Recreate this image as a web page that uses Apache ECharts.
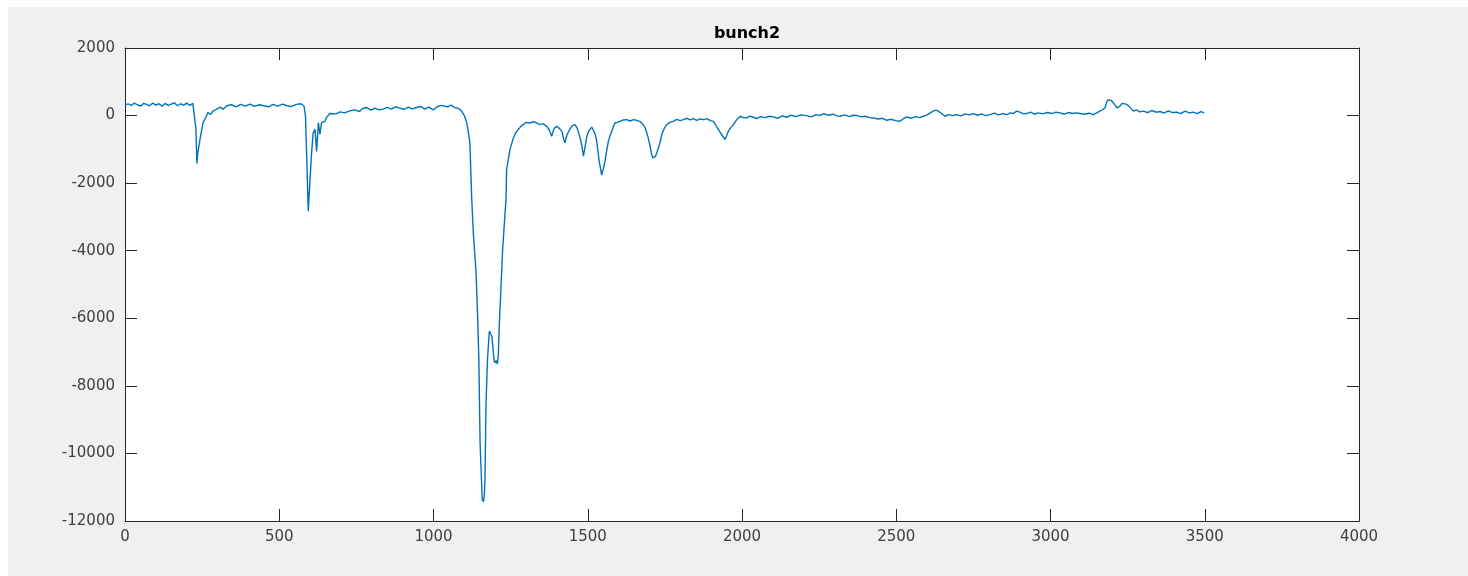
<!DOCTYPE html>
<html>
<head>
<meta charset="utf-8">
<script src="https://cdn.jsdelivr.net/npm/echarts@6/dist/echarts.min.js"></script>
<style>
  html, body { margin: 0; padding: 0; background: #ffffff; }
  #chart { width: 1468px; height: 576px; }
</style>
</head>
<body>
<div id="chart"></div>
<script>
// sample positions
const sampleX = [
  0, 10, 20, 30, 40, 50, 60, 70, 80, 90, 100, 110, 120, 130, 140, 150, 160, 170, 180, 190, 200, 210, 220, 226,
  230, 233, 236, 243, 253, 262, 269, 277, 285, 295, 308, 318,
  330, 345, 360, 375, 390, 405, 420, 435, 450, 465, 480, 495, 510, 525, 540, 555, 570, 580,
  585, 589, 594, 598, 604, 610, 616, 621, 627, 632, 637, 643, 648, 653, 658, 664, 670,
  684, 697, 712, 729, 745, 760, 770, 783, 797, 810, 823, 837, 850, 864, 877, 891, 905, 918, 931, 945, 958, 971, 985, 999,
  1012, 1025, 1031, 1045, 1058, 1068, 1075, 1083, 1091, 1100, 1108, 1113, 1118, 1124, 1129, 1138, 1143, 1147, 1151, 1156,
  1158, 1162, 1165, 1167, 1170, 1175, 1181, 1185, 1189, 1193, 1196, 1199, 1203, 1207, 1210, 1213, 1218, 1224, 1232, 1235,
  1237, 1248, 1259, 1267, 1275, 1283, 1291, 1300, 1313, 1324, 1335, 1345, 1356, 1367, 1375, 1383, 1391, 1399, 1408, 1416,
  1422, 1426, 1433, 1442, 1450, 1459, 1467, 1475, 1481, 1486, 1491, 1496, 1502, 1507, 1513, 1518, 1524, 1529, 1533, 1537,
  1541, 1545, 1550, 1556, 1562, 1567, 1573, 1578, 1583, 1588, 1596, 1605, 1615, 1626, 1637, 1648, 1658, 1669, 1678, 1686,
  1691, 1696, 1702, 1707, 1711, 1715, 1720, 1726, 1733, 1740, 1748, 1756, 1766, 1777, 1788, 1799, 1810, 1821, 1832, 1842,
  1853, 1864, 1875, 1886, 1897, 1907, 1915, 1923, 1934, 1945, 1950, 1956, 1964, 1972, 1983, 1994, 2005, 2015, 2026, 2037,
  2048, 2060, 2075, 2090, 2102, 2115, 2130, 2145, 2160, 2175, 2190, 2210, 2225, 2240, 2252, 2264, 2280, 2295, 2308, 2318,
  2333, 2348, 2360, 2372, 2388, 2400, 2413, 2426, 2440, 2455, 2469, 2483, 2497, 2512, 2522, 2534, 2548, 2561, 2575, 2588,
  2600, 2610, 2620, 2628, 2636, 2647, 2658, 2670, 2683, 2696, 2710, 2723, 2737, 2750, 2763, 2777, 2790, 2804, 2818, 2831,
  2845, 2858, 2870, 2880, 2890, 2901, 2913, 2923, 2935, 2948, 2960, 2975, 2990, 3005, 3018, 3031, 3045, 3058, 3070, 3083,
  3096, 3110, 3125, 3139, 3150, 3160, 3170, 3177, 3182, 3187, 3193, 3198, 3204, 3210, 3215, 3220, 3225, 3232, 3238, 3245,
  3252, 3260, 3268, 3278, 3290, 3301, 3315, 3328, 3342, 3355, 3368, 3382, 3395, 3409, 3422, 3436, 3450, 3463, 3476, 3488,
  3498
]

const bunch2 = [
  300, 350, 300, 370, 320, 280, 360, 330, 290, 370, 310, 350, 280, 360, 300, 340, 380, 290, 350, 310, 370, 300, 360, 330,
  -400, -1420, -1100, -710, -210, -50, 90, 30, 130, 180, 250, 190,
  290, 320, 260, 330, 280, 340, 270, 320, 290, 260, 330, 280, 340, 290, 270, 330, 350, 290,
  0, -1200, -2830, -2200, -1200, -510, -410, -1060, -210, -560, -210, -250, -170, -60, -20, 60, 80,
  50, 110, 80, 140, 170, 120, 210, 240, 160, 220, 170, 190, 240, 190, 260, 220, 180, 250, 200, 240, 270, 190, 250, 170,
  260, 300, 340, 260, 310, 240, 230, 200, 130, 0, -220, -500, -810, -2490, -3460, -4650, -5940, -7220, -9690, -10880,
  -11370, -11430, -11200, -10770, -8600, -7220, -6380, -6350, -6530, -6900, -7220, -7320, -7250, -7350, -7120, -6240, -5250, -3970, -2880, -2490,
  -1600, -1000, -660, -500, -410, -320, -270, -200, -220, -180, -220, -270, -240, -320, -420, -610, -380, -320, -380, -460,
  -700, -810, -560, -410, -300, -270, -400, -660, -900, -1200, -950, -660, -480, -410, -340, -360, -550, -760, -1050, -1350,
  -1550, -1760, -1600, -1350, -1000, -760, -580, -460, -330, -220, -200, -170, -130, -120, -160, -120, -140, -170, -250, -360,
  -500, -660, -900, -1150, -1250, -1300, -1200, -1150, -850, -560, -380, -270, -200, -170, -110, -150, -120, -80, -130, -90,
  -140, -100, -120, -90, -150, -170, -280, -410, -560, -710, -600, -460, -350, -270, -120, -20, -60, -70, -20, -50,
  -90, -30, -60, -20, -40, -80, -10, -50, 10, -30, 20, 0, -40, 30, 0, 60, 10, 40, -10, -20,
  20, -30, 10, 0, -40, -20, -60, -70, -100, -80, -140, -110, -150, -170, -100, -40, -80, -30, -60, -20,
  20, 80, 130, 160, 130, 60, -20, 30, 0, 30, -10, 50, 20, 60, 10, 50, 0, 30, 70, 20,
  60, 30, 80, 60, 130, 100, 50, 60, 100, 40, 80, 50, 90, 60, 100, 80, 40, 90, 60, 80,
  60, 40, 70, 30, 80, 130, 180, 230, 400, 470, 500, 440, 420, 300, 230, 260, 280, 360, 380, 340,
  300, 220, 130, 170, 110, 130, 90, 150, 100, 120, 70, 140, 90, 100, 60, 130, 80, 100, 60, 120,
  80
]

const xTicks = { min: 0, max: 4000, step: 500 }
const yTicks = { min: -12000, max: 2000, step: 2000 }

const axisColor = '#262626'
const labelColor = '#404040'
const fontFamily = 'DejaVu Sans'

const chart = echarts.init(document.getElementById('chart'))

const baseAxis = {
  type: 'value',
  axisLine: { show: true, onZero: false, lineStyle: { color: axisColor, width: 1 } },
  axisTick: { show: true, inside: true, length: 12, lineStyle: { color: axisColor } },
  splitLine: { show: false }
}

// MATLAB style labels, no thousands separator
const plain = (v) => String(v)

const option = {
  animation: false,
  backgroundColor: '#ffffff',
  graphic: [
    {
      type: 'rect',
      z: -10,
      silent: true,
      shape: { x: 8, y: 7, width: 1468, height: 576 },
      style: { fill: '#f0f0f0' }
    }
  ],
  title: {
    text: 'bunch2',
    left: 742,
    textAlign: 'center',
    top: 21,
    textStyle: { fontFamily, fontSize: 16, fontWeight: 'bold', color: '#000000' }
  },
  grid: { left: 125, right: 109, top: 48, bottom: 55, show: true, backgroundColor: '#ffffff', borderWidth: 0 },
  xAxis: [
    {
      ...baseAxis,
      position: 'bottom',
      min: xTicks.min,
      max: xTicks.max,
      interval: xTicks.step,
      axisLabel: { color: labelColor, fontFamily, fontSize: 15, margin: 9, formatter: plain }
    },
    {
      ...baseAxis,
      position: 'top',
      min: xTicks.min,
      max: xTicks.max,
      interval: xTicks.step,
      axisLabel: { show: false }
    }
  ],
  yAxis: [
    {
      ...baseAxis,
      position: 'left',
      min: yTicks.min,
      max: yTicks.max,
      interval: yTicks.step,
      axisLabel: { color: labelColor, fontFamily, fontSize: 15, margin: 10, formatter: plain }
    },
    {
      ...baseAxis,
      position: 'right',
      min: yTicks.min,
      max: yTicks.max,
      interval: yTicks.step,
      axisLabel: { show: false }
    }
  ],
  series: [
    {
      name: 'bunch2',
      type: 'line',
      xAxisIndex: 0,
      yAxisIndex: 0,
      showSymbol: false,
      symbol: 'none',
      lineStyle: { color: '#0072bd', width: 1.4 },
      data: sampleX.map((x, i) => [x, bunch2[i]])
    }
  ]
}

chart.setOption(option)
</script>
</body>
</html>
